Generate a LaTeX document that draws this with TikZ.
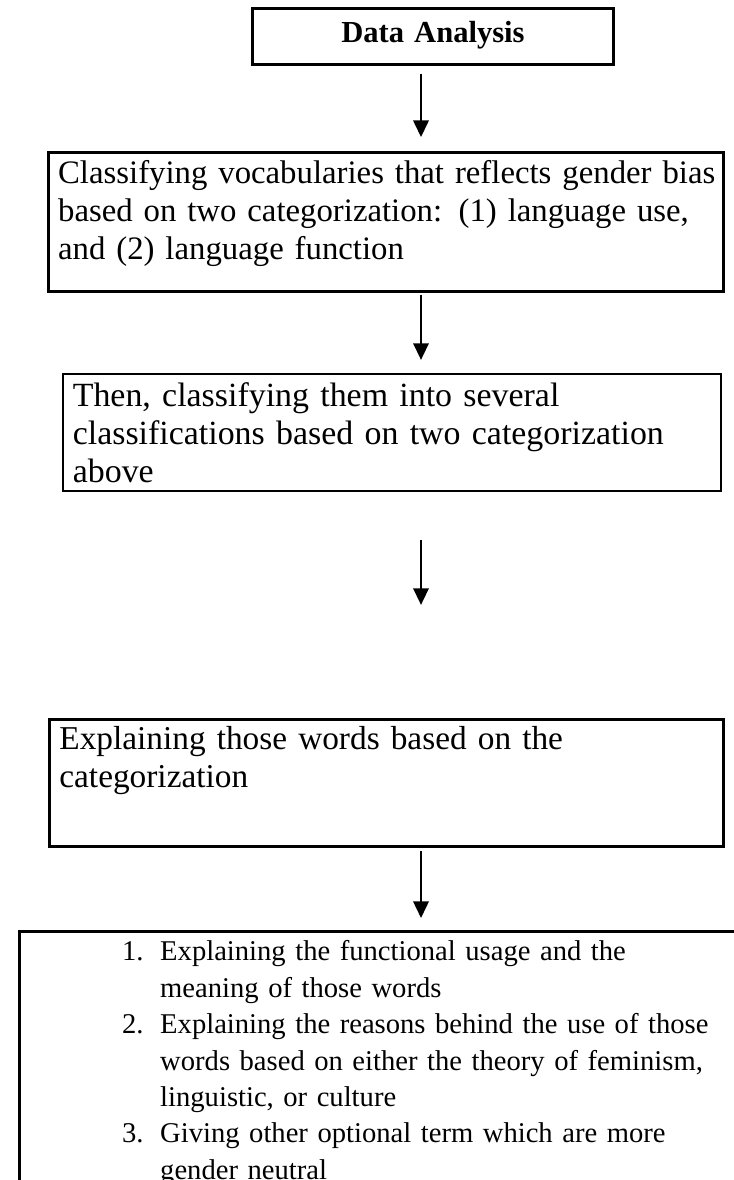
\documentclass[tikz,border=0pt]{standalone}
\usepackage{fontspec}
\setmainfont{Liberation Serif}
\usetikzlibrary{arrows.meta,positioning,calc}

\begin{document}
\begin{tikzpicture}[x=0.36pt, y=-0.36pt, font=\fontsize{12}{13.6}\selectfont,
   stage/.style={draw, line width=1pt, anchor=north west, align=left, inner ysep=0pt},
   flow/.style={-{Triangle[length=6pt, width=5.5pt]}, line width=0.9pt}]
  \useasboundingbox (0,0) rectangle (734,1180);
  \clip (0,0) rectangle (734,1180);
  \coordinate (mid) at (421,0);
  \node[stage, font=\fontsize{11}{13.6}\selectfont, align=center, text width=120pt, inner xsep=5pt, text height=12.2pt, text depth=8pt] (ana) at (251,7)
    {\textbf{Data Analysis}};
  \node[stage, font=\fontsize{11.8}{13.6}\selectfont, text width=236pt, inner xsep=3.5pt, text height=11.2pt, text depth=38.8pt] (cls) at (47,151)
    {\mbox{Classifying vocabularies that reflects gender bias}\\based on two categorization: (1) language use,\\and (2) language function};
  \node[stage, font=\fontsize{12.2}{13.6}\selectfont, line width=0.6pt, text width=229.7pt, inner xsep=3.6pt, text height=11.9pt, text depth=30.2pt] (sub) at (62,373)
    {Then, classifying them into several\\classifications based on two categorization\\above};
  \node[stage, text width=235.4pt, inner xsep=3.6pt, text height=10.8pt, text depth=34.9pt] (expl) at (48,718)
    {Explaining those words based on the\\categorization};
  % list box runs past the right and bottom edges
  \node[stage, font=\fontsize{10.3}{13.1}\selectfont, text width=215pt, inner xsep=37pt, text height=10.6pt, text depth=108pt] (res) at (18,930)
    {\makebox[13.7pt][l]{1.}Explaining the functional usage and the\\
     \hspace*{13.7pt}meaning of those words\\
     \makebox[13.7pt][l]{2.}\mbox{Explaining the reasons behind the use of those}\\
     \hspace*{13.7pt}\mbox{words based on either the theory of feminism,}\\
     \hspace*{13.7pt}linguistic, or culture\\
     \makebox[13.7pt][l]{3.}Giving other optional term which are more\\
     \hspace*{13.7pt}gender neutral};
  % arrows on one common x
  \draw[flow, shorten <=2.9pt, shorten >=5pt] (ana.south -| mid) -- (cls.north -| mid);
  \draw[flow, shorten <=0.7pt, shorten >=4.7pt] (cls.south -| mid) -- (sub.north -| mid);
  \draw[flow, shorten <=17.3pt, shorten >=40.7pt] (sub.south -| mid) -- (expl.north -| mid);
  \draw[flow, shorten <=1.1pt, shorten >=4.3pt] (expl.south -| mid) -- (res.north -| mid);
\end{tikzpicture}
\end{document}
